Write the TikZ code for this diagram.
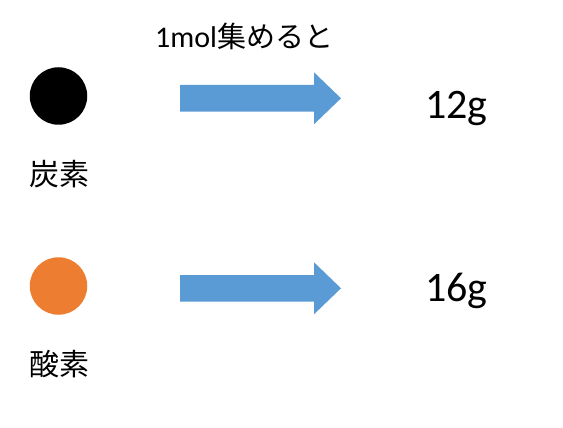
\documentclass[tikz,border=0pt]{standalone}
\usepackage{fontspec}
\setmainfont{Carlito}
\newfontfamily\cjkfont{Noto Sans CJK JP}
\newfontfamily\latfont{Carlito}
\definecolor{arrowblue}{HTML}{5B9BD5}
\definecolor{oxorange}{HTML}{ED7D31}
\tikzset{
  atom/.style={circle, minimum size=57.5pt, inner sep=0pt},
  elemlabel/.style={font=\cjkfont\fontsize{30}{36}\selectfont, inner sep=0pt},
  massval/.style={font=\latfont\fontsize{42}{50}\selectfont, inner sep=0pt, anchor=base west},
  caption/.style={inner sep=0pt, anchor=base west},
  bigarrow/.pic={
    \fill[arrowblue] (0,-13.3) -- (134,-13.3) -- (134,-26) -- (161,0) -- (134,26) -- (134,13.3) -- (0,13.3) -- cycle;
  }
}
\begin{document}
\begin{tikzpicture}[x=1pt,y=-1pt]
\useasboundingbox[fill=white] (0,0) rectangle (563,428);
% caption
\node[caption] (cap) at (155,48) {{\latfont\fontsize{30}{36}\selectfont 1mol}{\cjkfont\fontsize{29}{35}\selectfont 集めると}};
% row 1: carbon
\node[atom, fill=black] (c1) at (58.5,96) {};
\node[elemlabel] (l1) at (59.5,174) {炭素};
\pic (a1) at (180,98.3) {bigarrow};
\node[massval] (v1) at (425,119) {12g};
% row 2: oxygen
\node[atom, fill=oxorange] (c2) at (58.5,286) {};
\node[elemlabel] (l2) at (59.5,364) {酸素};
\pic (a2) at (180,288.3) {bigarrow};
\node[massval] (v2) at (425,301) {16g};
\end{tikzpicture}
\end{document}
